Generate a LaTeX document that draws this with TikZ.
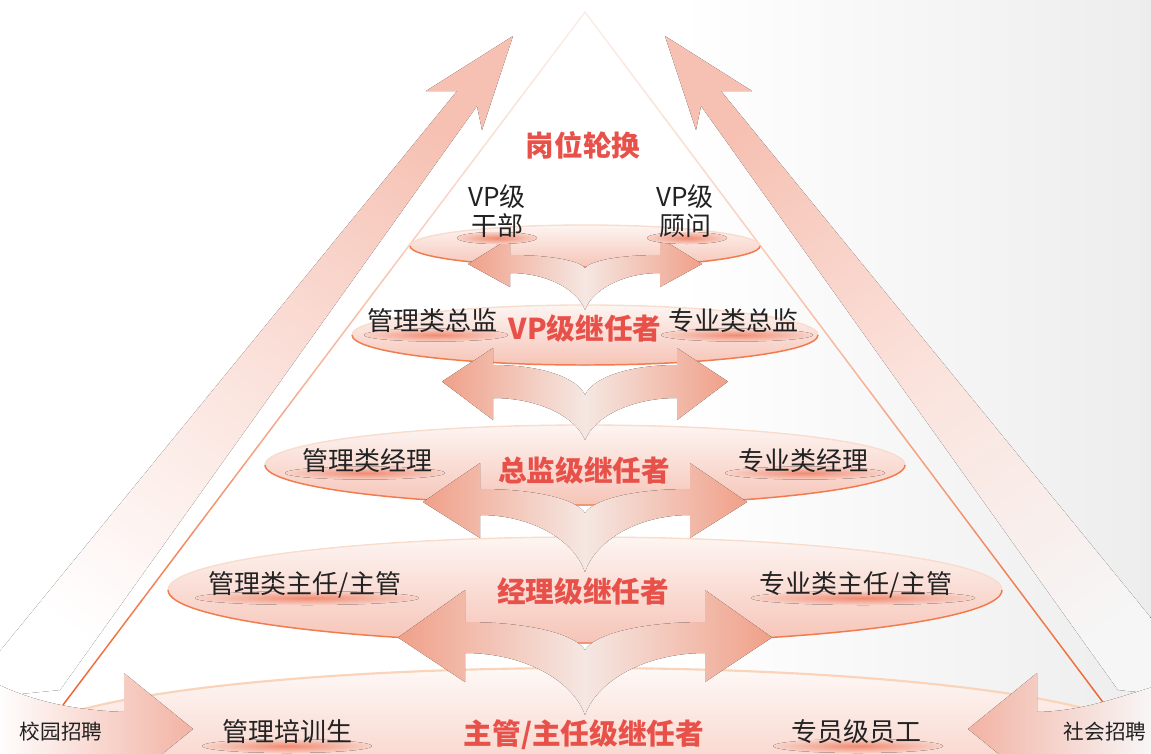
\documentclass[tikz,border=0pt]{standalone}
\usepackage{fontspec}
\setmainfont{Noto Sans CJK SC}
\usetikzlibrary{calc}
\definecolor{redT}{HTML}{E8514A}
\definecolor{blackT}{HTML}{222222}
\definecolor{bigA}{HTML}{F6C1B3}
\definecolor{ellTop}{HTML}{FDF5F2}
\definecolor{ellBot}{HTML}{F6C4B7}
\definecolor{ellEdge}{HTML}{F27A4C}
\definecolor{ellTopEdge}{HTML}{F9DCCC}
\definecolor{arrEnd}{HTML}{F0A089}
\definecolor{arrMid}{HTML}{F5E7E2}
\definecolor{hl}{HTML}{F08B73}
\definecolor{triA}{HTML}{FBEDE6}
\definecolor{triB}{HTML}{F0622D}
\definecolor{bgGray}{HTML}{EDEDED}
\definecolor{sideA}{HTML}{F2B3A4}
\tikzset{
  lbl/.style={text=blackT, font=\fontsize{19.5pt}{22pt}\selectfont, inner sep=0pt, align=center},
  ttl/.style={text=redT, font=\bfseries\fontsize{21.5pt}{26pt}\selectfont, inner sep=0pt},
  smalllbl/.style={text=blackT, font=\fontsize{15.5pt}{19pt}\selectfont, inner sep=0pt},
  dbl/.style={left color=arrEnd, right color=arrEnd, middle color=arrMid},
  hlite/.style={inner color=hl, outer color=ellBot!70!ellTop},
  ellfill/.style={top color=ellTop, bottom color=ellBot},
  ellbot/.style={draw=ellEdge, line width=1.1pt},
  elltop/.style={draw=ellTopEdge, line width=1pt},
}
% level ellipse: cx cy rx ry
\newcommand\levelell[4]{%
  \fill[ellfill] (#1,#2) ellipse [x radius=#3, y radius=#4];
  \draw[elltop] ({#1-#3},#2) arc [start angle=180, end angle=360, x radius=#3, y radius=#4];
  \draw[ellbot] ({#1-#3},#2) arc [start angle=180, end angle=0, x radius=#3, y radius=#4];
}
% double arrow: tipL hL headtop headbot shafttop shaftbot notch bottom
\newcommand\dblarrow[8]{%
  \pgfmathsetmacro\dw{585-#2}
  \pgfmathsetmacro\hR{1170-#2}
  \pgfmathsetmacro\tR{1170-#1}
  \pgfmathsetmacro\ty{(#5+#6)/2}
  \pgfmathsetmacro\oax{585-0.1*\dw}
  \pgfmathsetmacro\oay{#8-0.55*(#8-#6)}
  \pgfmathsetmacro\obx{585-0.5*\dw}
  \pgfmathsetmacro\iax{585-0.45*\dw}
  \pgfmathsetmacro\ibx{585-0.08*\dw}
  \pgfmathsetmacro\iby{#5+0.45*(#7-#5)}
  \pgfmathsetmacro\oaxr{1170-\oax}
  \pgfmathsetmacro\obxr{1170-\obx}
  \pgfmathsetmacro\iaxr{1170-\iax}
  \pgfmathsetmacro\ibxr{1170-\ibx}
  \fill[dbl] (585,#8) .. controls (\oax,\oay) and (\obx,#6) .. (#2,#6)
    -- (#2,#4) -- (#1,\ty) -- (#2,#3) -- (#2,#5)
    .. controls (\iax,#5) and (\ibx,\iby) .. (585,#7)
    .. controls (\ibxr,\iby) and (\iaxr,#5) .. (\hR,#5)
    -- (\hR,#3) -- (\tR,\ty) -- (\hR,#4) -- (\hR,#6)
    .. controls (\obxr,#6) and (\oaxr,\oay) .. (585,#8) -- cycle;
}
\begin{document}
\begin{tikzpicture}[x=0.75pt,y=-0.75pt]
\useasboundingbox (0,0) rectangle (1151,753);
\clip (0,0) rectangle (1151,753);
% background
\fill[white] (0,0) rectangle (1151,753);
\fill[left color=white, right color=bgGray] (680,0) rectangle (1151,753);

% big diagonal arrows
\fill[top color=bigA, bottom color=white, middle color=bigA!45!white, shading angle=-36]
  (513,36) -- (426,91) -- (457,91) -- (-40,700) -- (60,690) -- (477,106) -- (482,130) -- cycle;
\fill[top color=bigA, bottom color=bgGray!50!white, middle color=bigA!45!white, shading angle=36]
  (665,36) -- (752,91) -- (721,91) -- (1218,700) -- (1118,690) -- (701,106) -- (696,130) -- cycle;

% triangle
\coordinate (A) at (585,12);
\coordinate (L) at (63,705);
\coordinate (R) at (1105,705);
\foreach \i in {0,...,39}{
  \pgfmathsetmacro\ta{\i/40}
  \pgfmathsetmacro\tb{(\i+1)/40}
  \pgfmathtruncatemacro\p{100*((\i+0.5)/40)^1.3}
  \draw[draw=triB!\p!triA, line width=1.1pt, line cap=round] ($(A)!\ta!(L)$) -- ($(A)!\tb!(L)$);
  \draw[draw=triB!\p!triA, line width=1.1pt, line cap=round] ($(A)!\ta!(R)$) -- ($(A)!\tb!(R)$);
}

% levels
\levelell{585}{246}{175}{21}
\levelell{585}{335}{233}{30}
\levelell{585}{465}{320}{40}
\levelell{585}{590}{417}{53}
\fill[top color=ellTop!70!white, bottom color=ellBot] (585,742) ellipse [x radius=560, y radius=74];
\draw[draw=ellTopEdge!90!orange, line width=1.6pt] (25,742) arc [start angle=180, end angle=360, x radius=560, y radius=74];

% double arrows
\dblarrow{468}{510}{238}{287}{255}{273}{268}{310}
\dblarrow{442}{493}{348}{420}{365}{398}{395}{440}
\dblarrow{423}{480}{463}{538}{489}{515}{513}{572}
\dblarrow{398}{465}{590}{682}{622}{653}{650}{715}

% side recruiting arrows
\fill[left color=white, right color=sideA]
  (-5,683) .. controls (30,700) and (70,710) .. (124,712) -- (124,673) -- (193,729) -- (124,785) -- (-5,785) -- cycle;
\fill[left color=sideA, right color=bgGray!40!white]
  (1156,686) .. controls (1110,700) and (1080,711) .. (1037,712) -- (1037,673) -- (968,729) -- (1037,785) -- (1156,785) -- cycle;

% highlights under labels
\fill[hlite] (497,238) ellipse [x radius=40, y radius=6];
\fill[hlite] (687,238) ellipse [x radius=40, y radius=6];
\fill[hlite] (436,335) ellipse [x radius=72, y radius=6.5];
\fill[hlite] (737,335) ellipse [x radius=76, y radius=6.5];
\fill[hlite] (365,473) ellipse [x radius=80, y radius=6.5];
\fill[hlite] (805,473) ellipse [x radius=80, y radius=6.5];
\fill[hlite] (307,598) ellipse [x radius=112, y radius=7];
\fill[hlite] (863,598) ellipse [x radius=112, y radius=7];
\fill[hlite] (287,746) ellipse [x radius=85, y radius=7];
\fill[hlite] (858,746) ellipse [x radius=85, y radius=7];

% texts
\node[ttl] (rot) at (583,145) {岗位轮换};
\node[lbl] (vpgb) at (497,211) {VP级\\干部};
\node[lbl] (vpgw) at (685,211) {VP级\\顾问};
\node[lbl] (glzj) at (432,321) {管理类总监};
\node[ttl] (vpjr) at (585,328) {VP级继任者};
\node[lbl] (zyzj) at (733,321) {专业类总监};
\node[lbl] (gljl) at (367,461) {管理类经理};
\node[ttl] (zjjr) at (584,470) {总监级继任者};
\node[lbl] (zyjl) at (803,461) {专业类经理};
\node[lbl] (glzr) at (305,585) {管理类主任/主管};
\node[ttl] (jljr) at (583,591) {经理级继任者};
\node[lbl] (zyzr) at (856,585) {专业类主任/主管};
\node[smalllbl] (xyzp) at (61,732) {校园招聘};
\node[lbl] (glpx) at (287,732) {管理培训生};
\node[ttl] (zgjr) at (584,735) {主管/主任级继任者};
\node[lbl] (zyyg) at (856,732) {专员级员工};
\node[smalllbl] (shzp) at (1105,732) {社会招聘};
\end{tikzpicture}
\end{document}
